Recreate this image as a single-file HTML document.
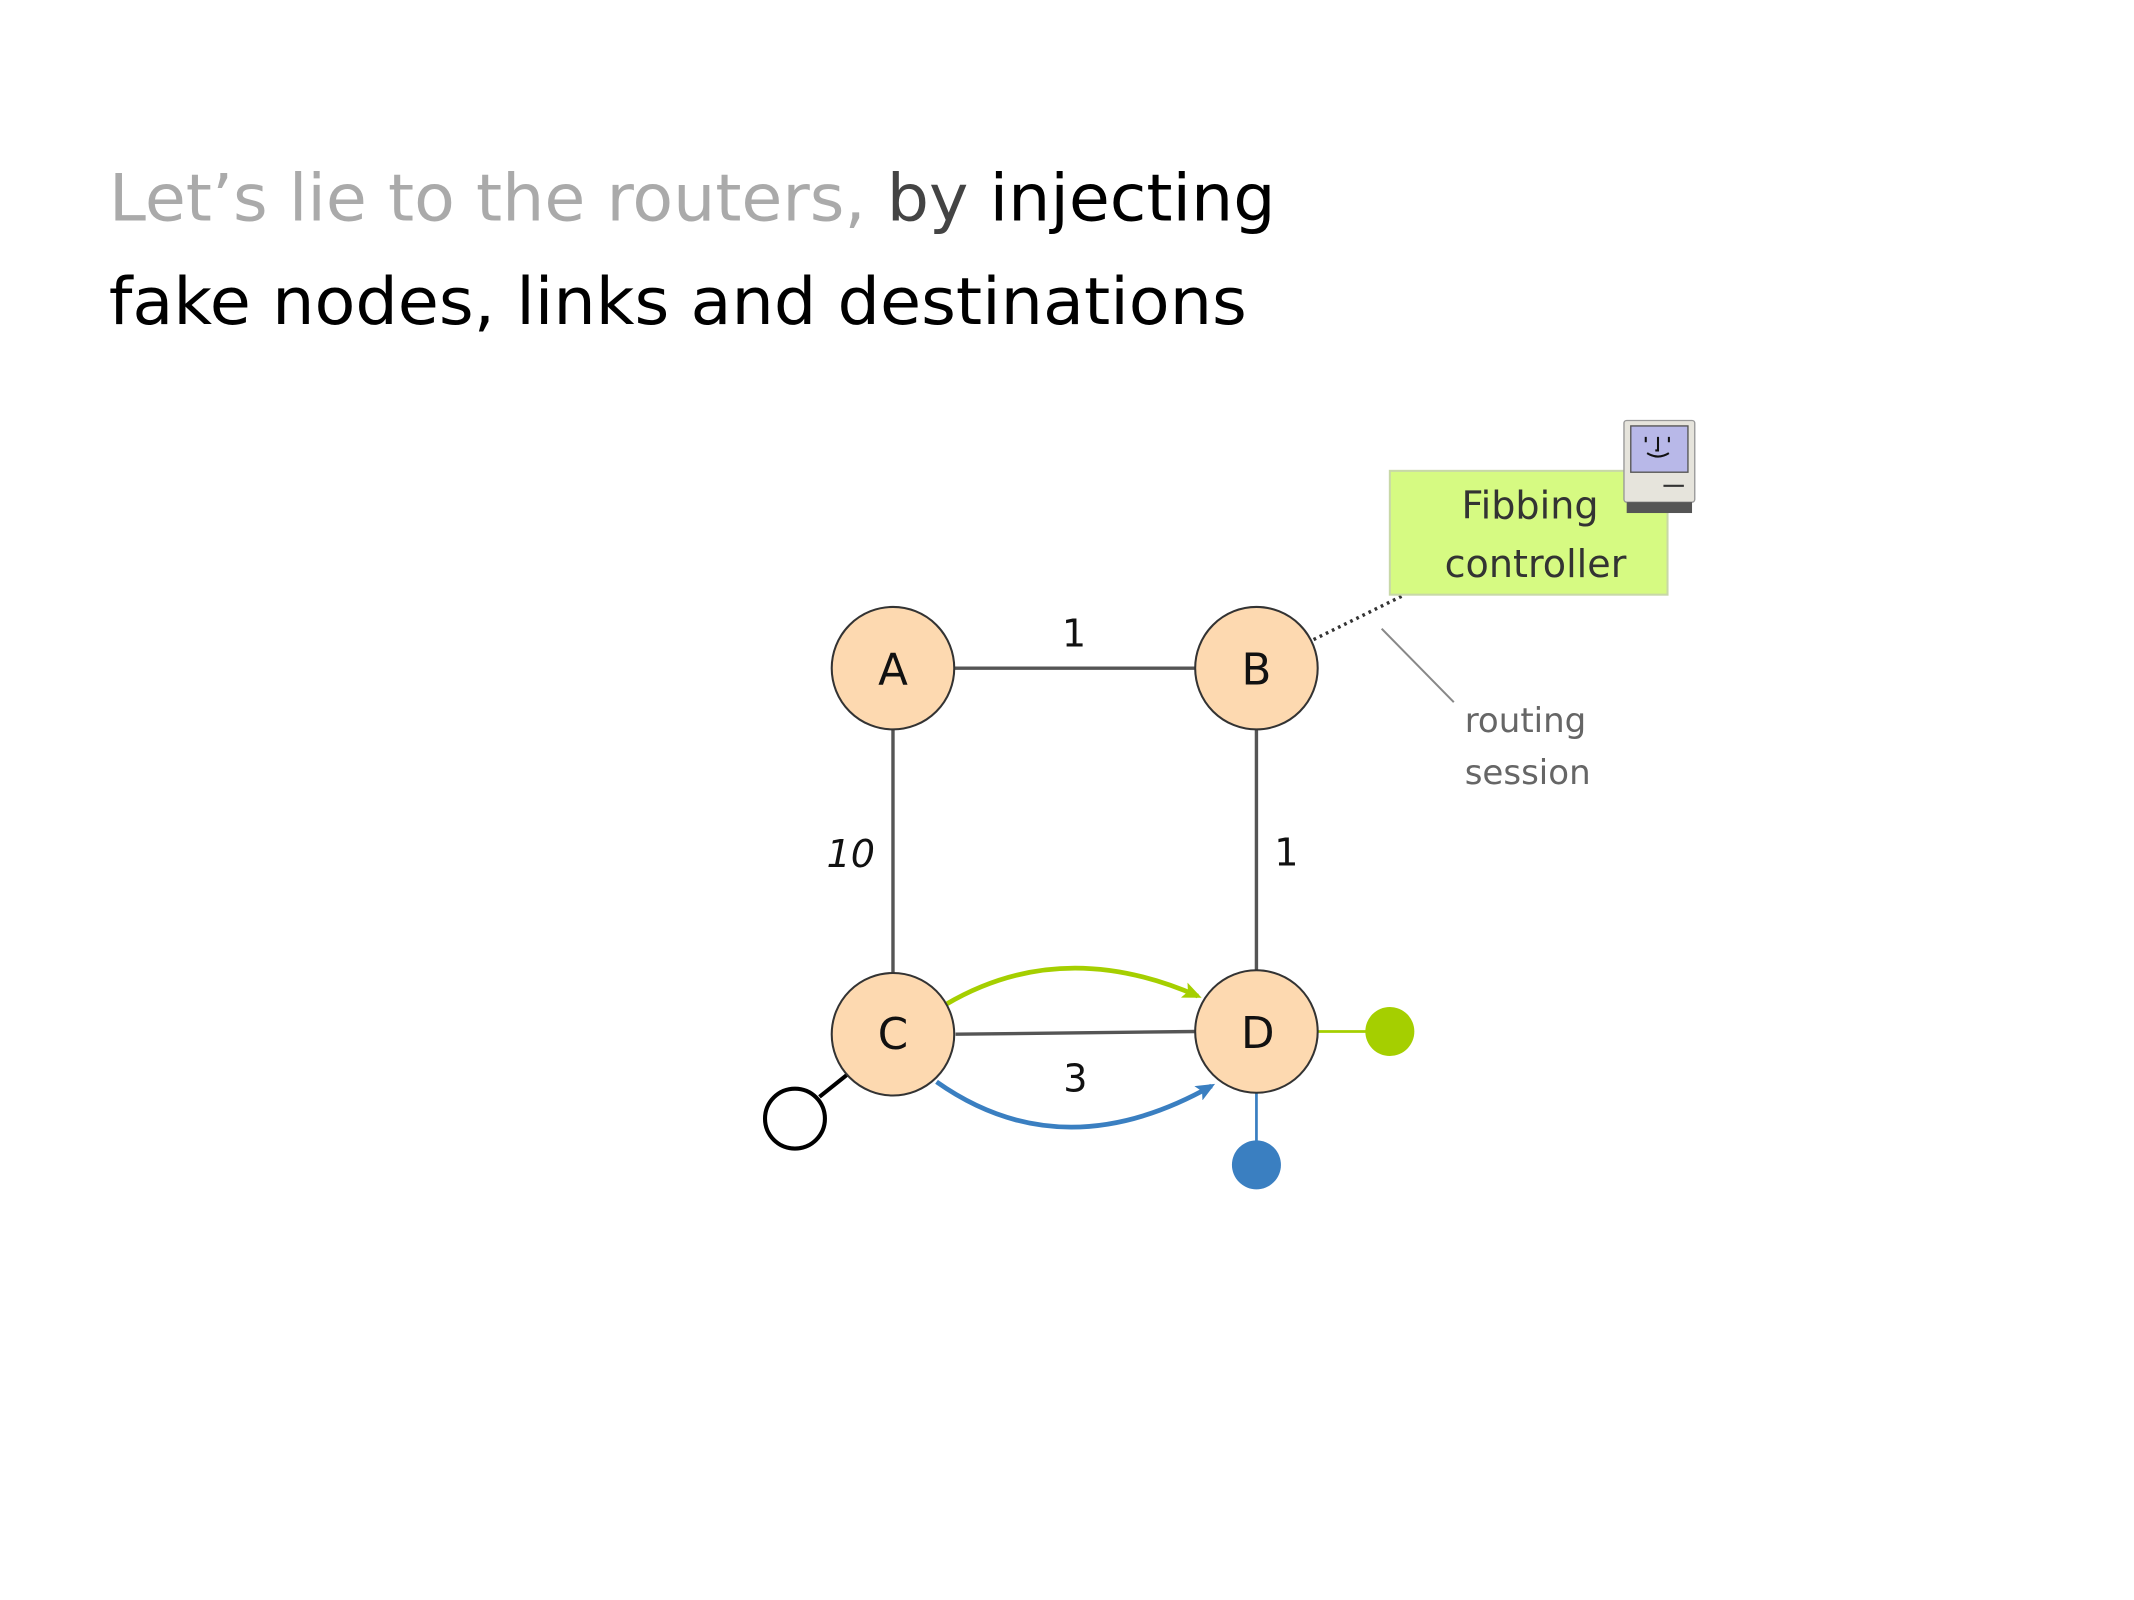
<!DOCTYPE html>
<html><head><meta charset="utf-8"><style>html,body{margin:0;padding:0;background:#fff;}svg{display:block}</style></head>
<body>
<svg width="2134" height="1600" viewBox="0 0 1552 1164" preserveAspectRatio="none" xmlns="http://www.w3.org/2000/svg" font-family="DejaVu Sans, Liberation Sans, sans-serif">
<defs>
<marker id="ag" markerWidth="14" markerHeight="12" refX="11" refY="6" orient="auto" markerUnits="userSpaceOnUse"><path d="M0,0 L14,6 L0,12 L3,6 z" fill="#a5cf00"/></marker>
<marker id="ab" markerWidth="14" markerHeight="12" refX="11" refY="6" orient="auto" markerUnits="userSpaceOnUse"><path d="M0,0 L14,6 L0,12 L3,6 z" fill="#3a7fc1"/></marker>
</defs>
<g transform="scale(0.99)">
<text x="80" y="162" font-size="48" textLength="857" lengthAdjust="spacingAndGlyphs"><tspan fill="#aaa">Let’s lie to the routers, </tspan><tspan fill="#444">by </tspan><tspan fill="#000">injecting</tspan></text>
<text x="80" y="238" font-size="48" fill="#000" textLength="836" lengthAdjust="spacingAndGlyphs">fake nodes, links and destinations</text>
<g stroke="#555" stroke-width="2.5">
<line x1="700" y1="491" x2="880" y2="491"/>
<line x1="656" y1="535" x2="656" y2="716"/>
<line x1="923" y1="535" x2="923" y2="714"/>
<line x1="702" y1="760" x2="879" y2="758"/>
</g>
<line x1="968" y1="758" x2="1004" y2="758" stroke="#a5cf00" stroke-width="2"/>
<line x1="923" y1="803" x2="923" y2="840" stroke="#3a7fc1" stroke-width="2"/>
<line x1="602" y1="806" x2="622" y2="790" stroke="#000" stroke-width="3"/>
<circle cx="584" cy="822" r="22" fill="#fff" stroke="#000" stroke-width="3"/>
<circle cx="1021" cy="758" r="18" fill="#a5cf00"/>
<circle cx="923" cy="856" r="18" fill="#3a7fc1"/>
<path d="M695,738 Q780,688 880,732" fill="none" stroke="#a5cf00" stroke-width="3.5" marker-end="url(#ag)"/>
<path d="M688,795 Q780,860 890,798" fill="none" stroke="#3a7fc1" stroke-width="3.5" marker-end="url(#ab)"/>
<g fill="#fdd9b0" stroke="#333" stroke-width="1.5">
<circle cx="656" cy="491" r="45"/><circle cx="923" cy="491" r="45"/>
<circle cx="656" cy="760" r="45"/><circle cx="923" cy="758" r="45"/>
</g>
<g font-size="32" fill="#111" text-anchor="middle">
<text x="656" y="503">A</text><text x="923" y="503">B</text>
<text x="656" y="771">C</text><text x="924" y="770">D</text>
</g>
<g font-size="28" fill="#111" text-anchor="middle">
<text x="789" y="475">1</text>
<text x="625" y="637" font-style="italic">10</text>
<text x="945" y="636">1</text>
<text x="790" y="802">3</text>
</g>
<line x1="965" y1="470" x2="1030" y2="438" stroke="#333" stroke-width="2.5" stroke-dasharray="2,3"/>
<line x1="1015" y1="462" x2="1068" y2="516" stroke="#888" stroke-width="1.5"/>
<rect x="1021" y="346" width="204" height="91" fill="#d6fa82" stroke="#c8d8a8" stroke-width="1.5"/>
<text x="1124" y="381" font-size="28" fill="#333" text-anchor="middle">Fibbing</text>
<text x="1128" y="424" font-size="28" fill="#333" text-anchor="middle">controller</text>
<text x="1076" y="538" font-size="25" fill="#666">routing</text>
<text x="1076" y="576" font-size="25" fill="#666">session</text>
<rect x="1193" y="309" width="52" height="60" rx="2" fill="#e6e4dc" stroke="#999"/>
<rect x="1198" y="313" width="42" height="34" fill="#b8b8e8" stroke="#555"/>
<rect x="1195" y="369" width="48" height="8" fill="#555"/>
<line x1="1222" y1="357" x2="1237" y2="357" stroke="#333" stroke-width="1.5"/>
<g stroke="#111" stroke-width="1.5" fill="none"><path d="M1209,321v4M1226,321v4M1218,321v10h-2M1210,333q8,5 16,0"/></g>
</g>
</svg>
</body></html>
